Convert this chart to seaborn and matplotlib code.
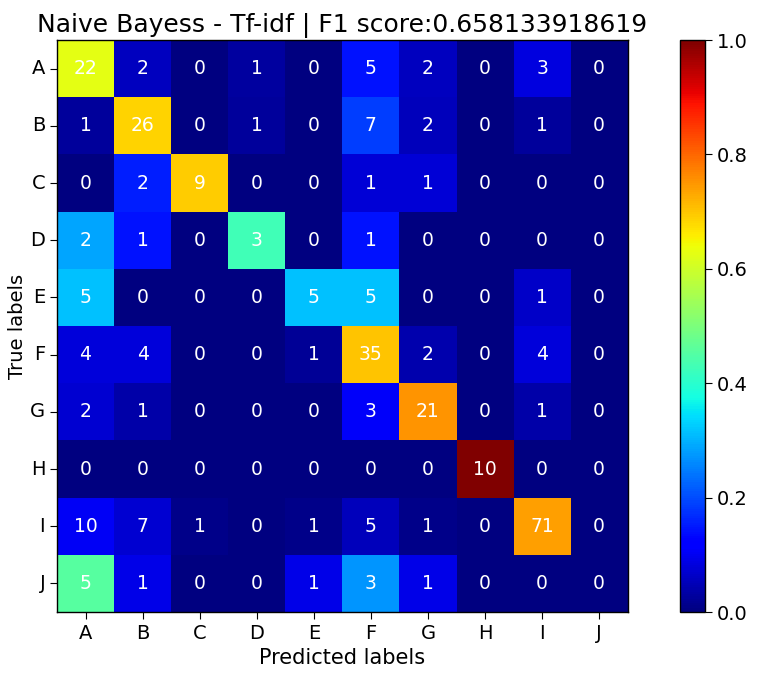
import numpy as np
import pandas as pd
import matplotlib
matplotlib.use("Agg")
import matplotlib.pyplot as plt
import seaborn as sns

labels = ["A", "B", "C", "D", "E", "F", "G", "H", "I", "J"]
row_A = [22, 2, 0, 1, 0, 5, 2, 0, 3, 0]
row_B = [1, 26, 0, 1, 0, 7, 2, 0, 1, 0]
row_C = [0, 2, 9, 0, 0, 1, 1, 0, 0, 0]
row_D = [2, 1, 0, 3, 0, 1, 0, 0, 0, 0]
row_E = [5, 0, 0, 0, 5, 5, 0, 0, 1, 0]
row_F = [4, 4, 0, 0, 1, 35, 2, 0, 4, 0]
row_G = [2, 1, 0, 0, 0, 3, 21, 0, 1, 0]
row_H = [0, 0, 0, 0, 0, 0, 0, 10, 0, 0]
row_I = [10, 7, 1, 0, 1, 5, 1, 0, 71, 0]
row_J = [5, 1, 0, 0, 1, 3, 1, 0, 0, 0]
title = "Naive Bayess - Tf-idf | F1 score:0.658133918619"

counts = np.array([row_A, row_B, row_C, row_D, row_E, row_F, row_G, row_H, row_I, row_J])
norm = counts / counts.sum(axis=1, keepdims=True)
df_norm = pd.DataFrame(norm, index=labels, columns=labels)

plt.rcParams['font.family'] = ['DejaVu Sans']
fig = plt.figure(figsize=(7.63, 6.8), dpi=100)
ax = fig.add_axes([0.0747, 0.1, 0.748, 0.841])
cax = fig.add_axes([0.891, 0.1, 0.033, 0.841])

sns.heatmap(df_norm, ax=ax, cbar_ax=cax, cmap="jet", vmin=0, vmax=1,
            annot=counts, fmt="d", annot_kws={"color": "white", "fontsize": 13.5},
            square=False)
for s in ax.spines.values():
    s.set_visible(True)
    s.set_linewidth(1)
    s.set_color("black")
cb = ax.collections[0].colorbar
cb.outline.set_visible(True)
cb.outline.set_linewidth(1)
cb.outline.set_edgecolor("black")
cb.set_ticks([0.0, 0.2, 0.4, 0.6, 0.8, 1.0])
cb.ax.tick_params(labelsize=14, length=5)

ax.set_xlabel("Predicted labels", fontsize=15)
ax.set_ylabel("True labels", fontsize=14, labelpad=2)
ax.set_title(title, fontsize=18)
ax.tick_params(axis="both", labelsize=14, length=5)
ax.set_yticklabels(labels, rotation=0)
ax.set_xticklabels(labels, rotation=0)

fig.savefig("out.png", dpi=100)
